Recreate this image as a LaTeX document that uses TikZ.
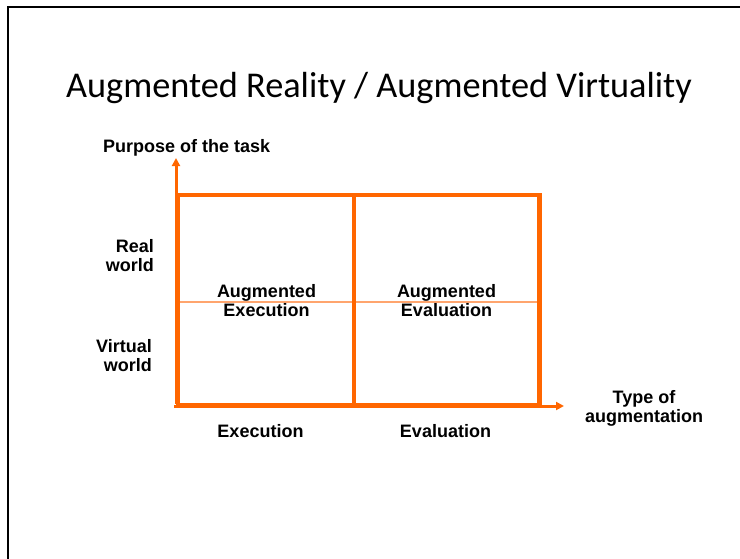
\documentclass[tikz,border=0pt]{standalone}
\usepackage{fontspec}
\setmainfont{Liberation Sans}
\newfontfamily\titlefont{Carlito}
\usetikzlibrary{arrows.meta}
\definecolor{aorange}{RGB}{255,102,0}
\definecolor{alight}{RGB}{255,165,110}
\tikzset{
  lbl/.style={font=\bfseries\fontsize{18}{19}\selectfont, inner sep=0pt, align=center},
  axis/.style={aorange, line width=3pt, -{Triangle[length=8pt,width=8pt]}},
  frame/.style={aorange, line width=4.5pt},
}
\begin{document}
\begin{tikzpicture}[x=1pt,y=-1pt]
\useasboundingbox (0,0) rectangle (740,558);
% slide border
\draw[line width=2pt] (740,7) -- (8,7) -- (8,560);
% title
\node[font=\titlefont\fontsize{36.3}{40}\selectfont, anchor=base, inner sep=0pt] (title) at (379,97) {Augmented Reality / Augmented Virtuality};
% coordinates
\coordinate (o) at (176,406);
\coordinate (ytip) at (176,158);
\coordinate (xtip) at (564,406);
\coordinate (bl) at (178,405);
\coordinate (tr) at (539.5,195);
\coordinate (mt) at (354,195);
\coordinate (mb) at (354,405);
\coordinate (hl) at (178,302);
\coordinate (hr) at (539,302);
% thin midline
\draw[alight, line width=1.5pt] (hl) -- (hr);
% frame
\draw[frame] (bl) rectangle (tr);
\draw[frame] (mt) -- (mb);
% axes
\draw[axis] ([yshift=2pt]o) -- (ytip);
\draw[axis] ([xshift=-2pt]o) -- (xtip);
% labels
\node[lbl, anchor=base west] (purpose) at (103,152) {Purpose of the task};
\node[lbl, anchor=base east, align=right] (real) at (154,271) {Real\\world};
\node[lbl, anchor=base east, align=right] (virtual) at (152,371) {Virtual\\world};
\node[lbl, anchor=base] (aexe) at (266.5,316) {Augmented\\Execution};
\node[lbl, anchor=base] (aeva) at (446.5,316) {Augmented\\Evaluation};
\node[lbl, anchor=base] (exe) at (260.5,437) {Execution};
\node[lbl, anchor=base] (eva) at (445.5,437) {Evaluation};
\node[lbl, anchor=base] (type) at (644,422) {Type of\\augmentation};
\end{tikzpicture}
\end{document}
